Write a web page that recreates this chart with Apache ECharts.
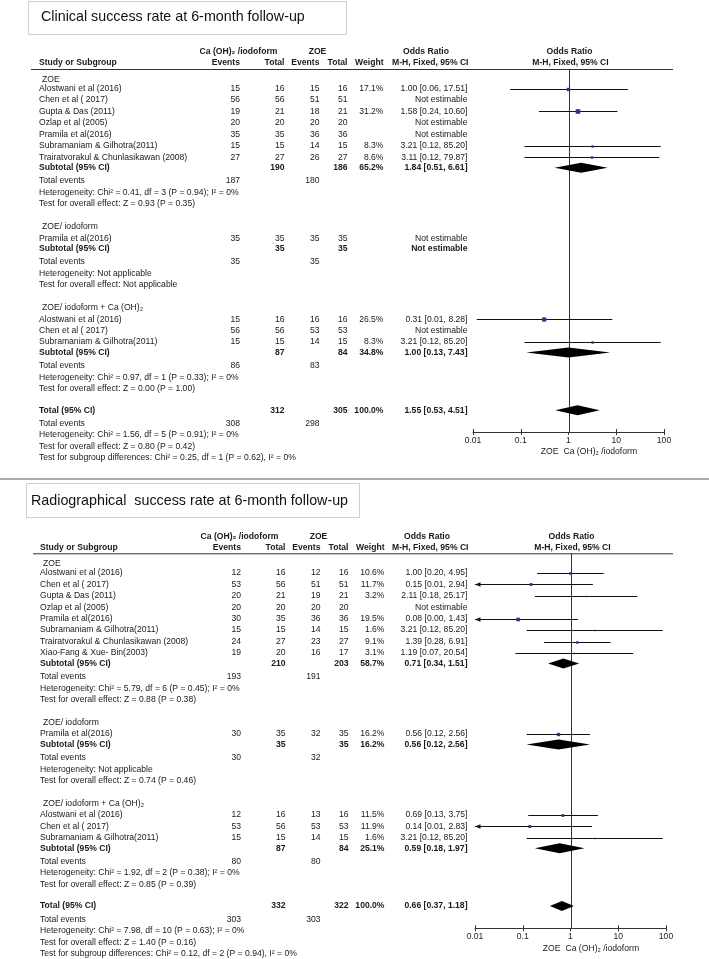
<!DOCTYPE html>
<html><head><meta charset="utf-8">
<script src="https://cdn.jsdelivr.net/npm/echarts@6/dist/echarts.min.js"></script>
<style>html,body{margin:0;padding:0;background:#fff}#c{width:709px;height:959px}</style>
</head><body><div id="c"></div>
<script>
// ===================== Clinical success (top panel) =====================
const clinTitle = 'Clinical success rate at 6-month follow-up';
const clinGroups = ['ZOE', 'ZOE/ iodoform', 'ZOE/ iodoform + Ca (OH)\u2082'];
const clinStudies = [
  ['Alostwani et al (2016)', 'Chen et al ( 2017)', 'Gupta & Das (2011)', 'Ozlap et al (2005)', 'Pramila et al(2016)', 'Subramaniam & Gilhotra(2011)', 'Trairatvorakul & Chunlasikawan (2008)'],
  ['Pramila et al(2016)'],
  ['Alostwani et al (2016)', 'Chen et al ( 2017)', 'Subramaniam & Gilhotra(2011)']
];
const clinCaEvents  = [[15, 56, 19, 20, 35, 15, 27], [35], [15, 56, 15]];
const clinCaTotal   = [[16, 56, 21, 20, 35, 15, 27], [35], [16, 56, 15]];
const clinZoeEvents = [[15, 51, 18, 20, 36, 14, 26], [35], [16, 53, 14]];
const clinZoeTotal  = [[16, 51, 21, 20, 36, 15, 27], [35], [16, 53, 15]];
const clinWeight = [[17.1, null, 31.2, null, null, 8.3, 8.6], [null], [26.5, null, 8.3]];
const clinOR = [[1.00, null, 1.58, null, null, 3.21, 3.11], [null], [0.31, null, 3.21]];
const clinLo = [[0.06, null, 0.24, null, null, 0.12, 0.12], [null], [0.012, null, 0.12]];
const clinHi = [[17.51, null, 10.60, null, null, 85.20, 79.87], [null], [8.28, null, 85.20]];
const clinSubCaTotal = [190, 35, 87];
const clinSubZoeTotal = [186, 35, 84];
const clinSubWeight = [65.2, null, 34.8];
const clinSubOR = [1.84, null, 1.00];
const clinSubLo = [0.51, null, 0.13];
const clinSubHi = [6.61, null, 7.43];
const clinSubCaEvents = [187, 35, 86];
const clinSubZoeEvents = [180, 35, 83];
const clinHet = ['Chi\u00b2 = 0.41, df = 3 (P = 0.94); I\u00b2 = 0%', 'Not applicable', 'Chi\u00b2 = 0.97, df = 1 (P = 0.33); I\u00b2 = 0%'];
const clinTest = ['Z = 0.93 (P = 0.35)', 'Not applicable', 'Z = 0.00 (P = 1.00)'];
const clinTotalRow = [312, 305, 100.0, 1.55, 0.53, 4.51];   // caTotal, zoeTotal, weight, OR, lo, hi
const clinTotalEvents = [308, 298];
const clinTotalStats = ['Chi\u00b2 = 1.56, df = 5 (P = 0.91); I\u00b2 = 0%', 'Z = 0.80 (P = 0.42)', 'Chi\u00b2 = 0.25, df = 1 (P = 0.62), I\u00b2 = 0%'];

// ===================== Radiographical success (bottom panel) =====================
const radTitle = 'Radiographical  success rate at 6-month follow-up';
const radGroups = ['ZOE', 'ZOE/ iodoform', 'ZOE/ iodoform + Ca (OH)\u2082'];
const radStudies = [
  ['Alostwani et al (2016)', 'Chen et al ( 2017)', 'Gupta & Das (2011)', 'Ozlap et al (2005)', 'Pramila et al(2016)', 'Subramaniam & Gilhotra(2011)', 'Trairatvorakul & Chunlasikawan (2008)', 'Xiao-Fang & Xue- Bin(2003)'],
  ['Pramila et al(2016)'],
  ['Alostwani et al (2016)', 'Chen et al ( 2017)', 'Subramaniam & Gilhotra(2011)']
];
const radCaEvents  = [[12, 53, 20, 20, 30, 15, 24, 19], [30], [12, 53, 15]];
const radCaTotal   = [[16, 56, 21, 20, 35, 15, 27, 20], [35], [16, 56, 15]];
const radZoeEvents = [[12, 51, 19, 20, 36, 14, 23, 16], [32], [13, 53, 14]];
const radZoeTotal  = [[16, 51, 21, 20, 36, 15, 27, 17], [35], [16, 53, 15]];
const radWeight = [[10.6, 11.7, 3.2, null, 19.5, 1.6, 9.1, 3.1], [16.2], [11.5, 11.9, 1.6]];
const radOR = [[1.00, 0.15, 2.11, null, 0.08, 3.21, 1.39, 1.19], [0.56], [0.69, 0.14, 3.21]];
const radLo = [[0.20, 0.008, 0.18, null, 0.004, 0.12, 0.28, 0.07], [0.12], [0.13, 0.007, 0.12]];
const radHi = [[4.95, 2.94, 25.17, null, 1.43, 85.20, 6.91, 20.54], [2.56], [3.75, 2.83, 85.20]];
const radSubCaTotal = [210, 35, 87];
const radSubZoeTotal = [203, 35, 84];
const radSubWeight = [58.7, 16.2, 25.1];
const radSubOR = [0.71, 0.56, 0.59];
const radSubLo = [0.34, 0.12, 0.18];
const radSubHi = [1.51, 2.56, 1.97];
const radSubCaEvents = [193, 30, 80];
const radSubZoeEvents = [191, 32, 80];
const radHet = ['Chi\u00b2 = 5.79, df = 6 (P = 0.45); I\u00b2 = 0%', 'Not applicable', 'Chi\u00b2 = 1.92, df = 2 (P = 0.38); I\u00b2 = 0%'];
const radTest = ['Z = 0.88 (P = 0.38)', 'Z = 0.74 (P = 0.46)', 'Z = 0.85 (P = 0.39)'];
const radTotalRow = [332, 322, 100.0, 0.66, 0.37, 1.18];
const radTotalEvents = [303, 303];
const radTotalStats = ['Chi\u00b2 = 7.98, df = 10 (P = 0.63); I\u00b2 = 0%', 'Z = 1.40 (P = 0.16)', 'Chi\u00b2 = 0.12, df = 2 (P = 0.94), I\u00b2 = 0%'];

// ===================== Axis ticks =====================
const orTicks = [0.01, 0.1, 1, 10, 100];
const axisNameLeft = 'ZOE';
const axisNameRight = 'Ca (OH)\u2082 /iodoform';

// ===================== Layout (styles/positions) =====================
const FONT = '"Liberation Sans", Arial, Helvetica, sans-serif';
const FS = 8.6;
const TFS = 14.3;
const INK = '#1a1a1a';
const SQ = '#2E3192';
const G = {start: 10.5, firstStudy: 9, groupStudy: 11.3, study: 11.45, sub: 10.5, ev: 13.2, het: 11.5, test: 11.2,
           group: 23.3, total: 21.8, tev: 13.4, thet: 11.3, ttest: 11.4, sg: 11.5};
const panels = [
  {top: 69, left: 473, width: 191, height: 363, dx: 0, lineLeft: 31},
  {top: 553.3, left: 475, width: 191, height: 375, dx: 1, lineLeft: 33}
];

function fmtW(w) { return w == null ? '' : w.toFixed(1) + '%'; }
function fmtOR(o, l, h) { return o == null ? 'Not estimable' : o.toFixed(2) + ' [' + l.toFixed(2) + ', ' + h.toFixed(2) + ']'; }

function buildRows(d, H) {
  const rows = [{t: 'hdr', y: 0}];
  let y = G.start;
  d.groups.forEach((g, gi) => {
    if (gi > 0) y += G.group;
    rows.push({t: 'group', y, label: g});
    d.studies[gi].forEach((s, si) => {
      y += si === 0 ? (gi === 0 ? G.firstStudy : G.groupStudy) : G.study;
      rows.push({t: 'study', y, label: s,
        cells: [d.caEv[gi][si], d.caTot[gi][si], d.zoeEv[gi][si], d.zoeTot[gi][si]],
        w: d.w[gi][si], or: d.or[gi][si], lo: d.lo[gi][si], hi: d.hi[gi][si]});
    });
    y += G.sub;
    rows.push({t: 'sub', y, label: 'Subtotal (95% CI)', cells: ['', d.subCa[gi], '', d.subZoe[gi]],
      w: d.subW[gi], or: d.subOR[gi], lo: d.subLo[gi], hi: d.subHi[gi]});
    y += G.ev; rows.push({t: 'ev', y, label: 'Total events', cells: [d.subCaEv[gi], '', d.subZoeEv[gi], '']});
    y += G.het; rows.push({t: 'txt', y, label: 'Heterogeneity: ' + d.het[gi]});
    y += G.test; rows.push({t: 'txt', y, label: 'Test for overall effect: ' + d.test[gi]});
  });
  const T = d.totalRow;
  y += G.total; rows.push({t: 'sub', y, label: 'Total (95% CI)', cells: ['', T[0], '', T[1]], w: T[2], or: T[3], lo: T[4], hi: T[5]});
  y += G.tev; rows.push({t: 'ev', y, label: 'Total events', cells: [d.totalEv[0], '', d.totalEv[1], '']});
  y += G.thet; rows.push({t: 'txt', y, label: 'Heterogeneity: ' + d.totalStats[0]});
  y += G.ttest; rows.push({t: 'txt', y, label: 'Test for overall effect: ' + d.totalStats[1]});
  y += G.sg; rows.push({t: 'txt', y, label: 'Test for subgroup differences: ' + d.totalStats[2]});
  rows.push({t: 'axn', y: H});
  return rows;
}

const clinData = {groups: clinGroups, studies: clinStudies, caEv: clinCaEvents, caTot: clinCaTotal, zoeEv: clinZoeEvents, zoeTot: clinZoeTotal,
  w: clinWeight, or: clinOR, lo: clinLo, hi: clinHi, subCa: clinSubCaTotal, subZoe: clinSubZoeTotal, subW: clinSubWeight,
  subOR: clinSubOR, subLo: clinSubLo, subHi: clinSubHi, subCaEv: clinSubCaEvents, subZoeEv: clinSubZoeEvents,
  het: clinHet, test: clinTest, totalRow: clinTotalRow, totalEv: clinTotalEvents, totalStats: clinTotalStats};
const radData = {groups: radGroups, studies: radStudies, caEv: radCaEvents, caTot: radCaTotal, zoeEv: radZoeEvents, zoeTot: radZoeTotal,
  w: radWeight, or: radOR, lo: radLo, hi: radHi, subCa: radSubCaTotal, subZoe: radSubZoeTotal, subW: radSubWeight,
  subOR: radSubOR, subLo: radSubLo, subHi: radSubHi, subCaEv: radSubCaEvents, subZoeEv: radSubZoeEvents,
  het: radHet, test: radTest, totalRow: radTotalRow, totalEv: radTotalEvents, totalStats: radTotalStats};

const panelRows = [buildRows(clinData, panels[0].height), buildRows(radData, panels[1].height)];

function makeRender(rows, P) {
  const dx = P.dx;
  const C = {label: 39 + dx, group: 42 + dx, caEv: 240 + dx, caTot: 284.5 + dx, zoeEv: 319.5 + dx, zoeTot: 347.5 + dx, w: 383.5 + dx, or: 467.5};
  return function (params, api) {
    const r = rows[api.value(2)];
    const y = api.coord([1, r.y])[1];
    const x1 = api.coord([1, r.y])[0];
    const kids = [];
    const txt = (text, x, align, bold, yy) => kids.push({type: 'text', x: x, y: yy == null ? y : yy,
      style: {text: String(text), fill: INK, fontSize: FS, fontWeight: bold ? 'bold' : 'normal', fontFamily: FONT, align: align, verticalAlign: 'middle'}});
    const xOf = v => api.coord([Math.min(100, Math.max(0.01, v)), r.y])[0];
    if (r.t === 'hdr') {
      const y1 = y - 17, y2 = y - 6;
      txt('Ca (OH)\u2082 /iodoform', 238.5 + dx, 'center', true, y1);
      txt('ZOE', 317.5 + dx, 'center', true, y1);
      txt('Odds Ratio', 426 + dx, 'center', true, y1);
      txt('Odds Ratio', x1 + 1, 'center', true, y1);
      txt('Study or Subgroup', C.label, 'left', true, y2);
      txt('Events', C.caEv, 'right', true, y2);
      txt('Total', C.caTot, 'right', true, y2);
      txt('Events', C.zoeEv, 'right', true, y2);
      txt('Total', C.zoeTot, 'right', true, y2);
      txt('Weight', C.w, 'right', true, y2);
      txt('M-H, Fixed, 95% CI', C.or + 1, 'right', true, y2);
      txt('M-H, Fixed, 95% CI', x1 + 2, 'center', true, y2);
      kids.push({type: 'line', shape: {x1: P.lineLeft, y1: y + 0.5, x2: 673, y2: y + 0.5}, style: {stroke: '#333', lineWidth: 1}});
      const yb = api.coord([1, P.height])[1];
      kids.push({type: 'line', shape: {x1: Math.round(x1) + 0.5, y1: y, x2: Math.round(x1) + 0.5, y2: yb}, style: {stroke: '#333', lineWidth: 1}});
    } else if (r.t === 'axn') {
      // upper halves of the crossing axis ticks
      orTicks.forEach(t => {
        const xt = Math.round(api.coord([t, r.y])[0]) + 0.5;
        kids.push({type: 'line', shape: {x1: xt, y1: y, x2: xt, y2: y - 3}, style: {stroke: '#333', lineWidth: 1}});
      });
      txt(axisNameLeft, x1 - 10, 'right', false, y + 20);
      txt(axisNameRight, x1 - 5, 'left', false, y + 20);
    } else if (r.t === 'group') {
      txt(r.label, C.group, 'left', false);
    } else if (r.t === 'txt') {
      txt(r.label, C.label, 'left', false);
    } else if (r.t === 'ev') {
      txt(r.label, C.label, 'left', false);
      txt(r.cells[0], C.caEv, 'right', false);
      txt(r.cells[2], C.zoeEv, 'right', false);
    } else {
      const bold = r.t === 'sub';
      txt(r.label, C.label, 'left', bold);
      txt(r.cells[0], C.caEv, 'right', bold);
      txt(r.cells[1], C.caTot, 'right', bold);
      txt(r.cells[2], C.zoeEv, 'right', bold);
      txt(r.cells[3], C.zoeTot, 'right', bold);
      txt(fmtW(r.w), C.w, 'right', bold);
      txt(fmtOR(r.or, r.lo, r.hi), C.or, 'right', bold);
      if (r.or != null) {
        const xl = xOf(r.lo), xh = xOf(r.hi), xo = xOf(r.or);
        if (r.t === 'study') {
          const yl = Math.round(y) + 0.5;
          kids.push({type: 'line', shape: {x1: xl, y1: yl, x2: xh, y2: yl}, style: {stroke: '#111', lineWidth: 1}});
          if (r.lo < 0.01) {
            kids.push({type: 'polygon', shape: {points: [[xl, yl], [xl + 5.5, yl - 2.2], [xl + 5.5, yl + 2.2]]}, style: {fill: '#111'}});
          }
          const s = Math.max(1.5, 0.82 * Math.sqrt(r.w));
          kids.push({type: 'rect', shape: {x: xo - s / 2, y: yl - s / 2, width: s, height: s}, style: {fill: SQ}});
        } else {
          kids.push({type: 'polygon', shape: {points: [[xl, y], [xo, y - 5], [xh, y], [xo, y + 5]]}, style: {fill: '#000'}});
        }
      }
    }
    return {type: 'group', children: kids};
  };
}

const xAxes = [], yAxes = [], grids = [], series = [];
panels.forEach((P, i) => {
  grids.push({left: P.left, width: P.width, top: P.top, height: P.height, containLabel: false});
  xAxes.push({type: 'log', logBase: 10, gridIndex: i, position: 'bottom', min: orTicks[0], max: orTicks[orTicks.length - 1],
    splitLine: {show: false}, minorTick: {show: false},
    axisLine: {show: true, onZero: false, lineStyle: {color: '#333', width: 1}},
    axisTick: {show: true, length: 3, lineStyle: {color: '#333'}},
    axisLabel: {show: true, fontSize: FS, color: '#222', fontFamily: FONT, margin: 4,
      formatter: v => String(Number(Number(v).toPrecision(2)))}});
  yAxes.push({type: 'value', gridIndex: i, inverse: true, min: 0, max: P.height, show: false});
  const rows = panelRows[i];
  series.push({type: 'custom', xAxisIndex: i, yAxisIndex: i, clip: false, silent: true, animation: false,
    data: rows.map((r, k) => [1, r.y, k]), encode: {x: 0, y: 1},
    renderItem: makeRender(rows, P)});
});

const chart = echarts.init(document.getElementById('c'), null, {renderer: 'canvas'});
chart.setOption({
  backgroundColor: '#fff',
  animation: false,
  grid: grids, xAxis: xAxes, yAxis: yAxes, series: series,
  graphic: [
    {type: 'rect', shape: {x: 28.5, y: 1.5, width: 318, height: 33}, style: {fill: '#fff', stroke: '#cfcfcf', lineWidth: 1}},
    {type: 'text', x: 41, y: 17.5, style: {text: clinTitle, fill: '#111', fontSize: TFS, fontFamily: FONT, verticalAlign: 'middle'}},
    {type: 'line', shape: {x1: 0, y1: 479, x2: 709, y2: 479}, style: {stroke: '#ababab', lineWidth: 2}},
    {type: 'rect', shape: {x: 26.5, y: 483.5, width: 333, height: 34}, style: {fill: '#fff', stroke: '#cfcfcf', lineWidth: 1}},
    {type: 'text', x: 31, y: 501, style: {text: radTitle, fill: '#111', fontSize: TFS, fontFamily: FONT, verticalAlign: 'middle'}}
  ]
});
</script>
</body></html>
